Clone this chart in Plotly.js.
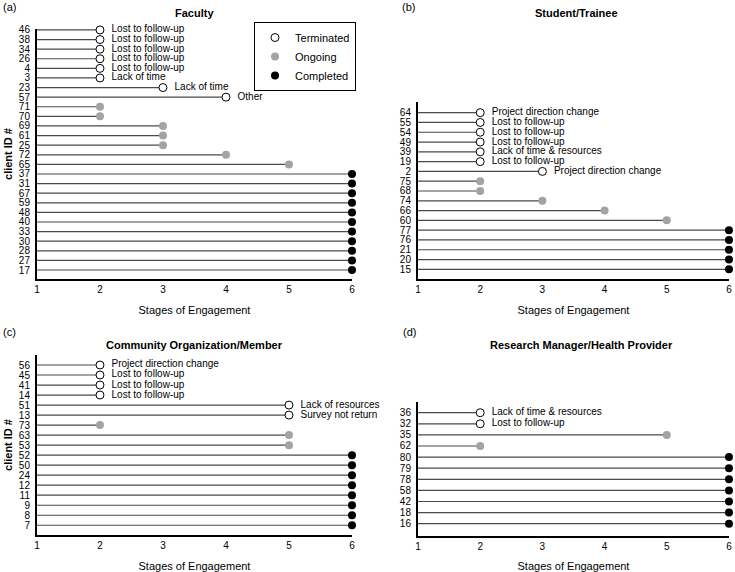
<!DOCTYPE html>
<html>
<head>
<meta charset="utf-8">
<script src="https://cdn.plot.ly/plotly-3.0.1.min.js"></script>
<style>
html, body { margin: 0; padding: 0; background: #fff; }
#chart { width: 735px; height: 572px; }
</style>
</head>
<body>
<div id="chart"></div>
<script>
// status codes: T = terminated, O = ongoing, C = completed

// (a) Faculty
var facultyIds = ['46','38','34','26','4','3','23','57','71','70','69','61','25','72','65',
                  '37','31','67','59','48','40','33','30','28','27','17']
var facultyStage = [2,2,2,2,2,2,3,4,2,2,3,3,3,4,5,6,6,6,6,6,6,6,6,6,6,6]
var facultyStatus = ['T','T','T','T','T','T','T','T','O','O','O','O','O','O','O',
                     'C','C','C','C','C','C','C','C','C','C','C']
var facultyReason = ['Lost to follow-up','Lost to follow-up','Lost to follow-up','Lost to follow-up',
                     'Lost to follow-up','Lack of time','Lack of time','Other']

// (b) Student/Trainee
var studentIds = ['64','55','54','49','39','19','2','75','68','74','66','60','77','76','21','20','15']
var studentStage = [2,2,2,2,2,2,3,2,2,3,4,5,6,6,6,6,6]
var studentStatus = ['T','T','T','T','T','T','T','O','O','O','O','O','C','C','C','C','C']
var studentReason = ['Project direction change','Lost to follow-up','Lost to follow-up','Lost to follow-up',
                     'Lack of time & resources','Lost to follow-up','Project direction change']

// (c) Community Organization/Member
var communityIds = ['56','45','41','14','51','13','73','63','53','52','50','24','12','11','9','8','7']
var communityStage = [2,2,2,2,5,5,2,5,5,6,6,6,6,6,6,6,6]
var communityStatus = ['T','T','T','T','T','T','O','O','O','C','C','C','C','C','C','C','C']
var communityReason = ['Project direction change','Lost to follow-up','Lost to follow-up','Lost to follow-up',
                       'Lack of resources','Survey not return']

// (d) Research Manager/Health Provider
var managerIds = ['36','32','35','62','80','79','78','58','42','18','16']
var managerStage = [2,2,5,2,6,6,6,6,6,6,6]
var managerStatus = ['T','T','O','O','C','C','C','C','C','C','C']
var managerReason = ['Lack of time & resources','Lost to follow-up']

var stageTicks = [1,2,3,4,5,6]
var statusNames = {T: 'Terminated', O: 'Ongoing', C: 'Completed'}

var fontFam = 'Arial, "Liberation Sans", sans-serif'

function panelTraces(ids, stage, status, reason, xa, ya, withLegend) {
    var traces = []

    // stems from stage 1 out to the reached stage
    var sx = [], sy = []
    for (let i = 0; i < ids.length; i++) {
        sx.push(1, stage[i], null)
        sy.push(ids[i], ids[i], null)
    }
    traces.push({
        x: sx, y: sy, xaxis: xa, yaxis: ya,
        type: 'scatter', mode: 'lines',
        line: {color: '#4a4a4a', width: 1.2},
        hoverinfo: 'skip', showlegend: false
    })

    var styles = {
        T: {color: '#ffffff', size: 8, line: {color: '#000', width: 1}},
        O: {color: '#a3a3a3', size: 8, line: {width: 0}},
        C: {color: '#000000', size: 8, line: {width: 0}}
    }

    ;['T', 'O', 'C'].forEach(function (code) {
        var x = [], y = [], txt = []
        for (let i = 0; i < ids.length; i++) {
            if (status[i] != code) continue
            x.push(stage[i])
            y.push(ids[i])
            // two no-break spaces keep the reason clear of the circle
            txt.push(code == 'T' ? '\u00a0\u00a0' + reason[i] : '')
        }
        traces.push({
            x: x, y: y, xaxis: xa, yaxis: ya,
            type: 'scatter',
            mode: code == 'T' ? 'markers+text' : 'markers',
            text: txt,
            textposition: 'middle right',
            textfont: {family: fontFam, size: 10, color: '#000'},
            marker: styles[code],
            name: statusNames[code],
            legendgroup: code,
            showlegend: withLegend,
            cliponaxis: false
        })
    })
    return traces
}

var data = [].concat(
    panelTraces(facultyIds, facultyStage, facultyStatus, facultyReason, 'x', 'y', true),
    panelTraces(studentIds, studentStage, studentStatus, studentReason, 'x2', 'y2', false),
    panelTraces(communityIds, communityStage, communityStatus, communityReason, 'x3', 'y3', false),
    panelTraces(managerIds, managerStage, managerStatus, managerReason, 'x4', 'y4', false)
)

function xAxis(domain, anchor) {
    return {
        domain: domain, anchor: anchor,
        range: [1, 6], tickvals: stageTicks, ticks: '',
        showline: true, linecolor: '#000', linewidth: 2,
        showgrid: false, zeroline: false,
        tickfont: {family: fontFam, size: 10, color: '#000'},
        title: {text: 'Stages of Engagement', font: {family: fontFam, size: 11, color: '#000'}, standoff: 12}
    }
}

function yAxis(domain, anchor, ids, range, withTitle) {
    var ax = {
        domain: domain, anchor: anchor,
        type: 'category', categoryorder: 'array', categoryarray: ids,
        tickmode: 'array', tickvals: ids, ticktext: ids,
        range: range, ticks: '',
        showline: true, linecolor: '#000', linewidth: 2,
        showgrid: false, zeroline: false,
        ticklabelstandoff: 3,
        tickfont: {family: fontFam, size: 10, color: '#000'}
    }
    if (withTitle) {
        ax.title = {text: '<b>client ID #</b>', font: {family: fontFam, size: 11, color: '#000'}, standoff: 4}
    }
    return ax
}

var leftX = [0.0503, 0.4789]
var rightX = [0.5687, 0.9918]

function note(text, x, y, anchor, bold) {
    return {
        text: bold ? '<b>' + text + '</b>' : text,
        x: x, y: y, xref: 'paper', yref: 'paper',
        xanchor: anchor, yanchor: 'middle', showarrow: false,
        font: {family: fontFam, size: 11, color: '#000'}
    }
}

var layout = {
    width: 735, height: 572,
    margin: {l: 0, r: 0, t: 0, b: 0},
    paper_bgcolor: '#fff', plot_bgcolor: '#fff',
    font: {family: fontFam, color: '#000'},
    xaxis: xAxis(leftX, 'y'),
    yaxis: yAxis([0.5122, 0.9493], 'x', facultyIds, [25.94, -0.1], true),
    xaxis2: xAxis(rightX, 'y2'),
    yaxis2: yAxis([0.5122, 0.8217], 'x2', studentIds, [16.99, -1.09], false),
    xaxis3: xAxis(leftX, 'y3'),
    yaxis3: yAxis([0.0647, 0.3794], 'x3', communityIds, [16.97, -1.0], true),
    xaxis4: xAxis(rightX, 'y4'),
    yaxis4: yAxis([0.0635, 0.2977], 'x4', managerIds, [11.08, -0.99], false),
    legend: {
        x: 0.3456, y: 0.9615, xanchor: 'left', yanchor: 'top',
        bgcolor: '#fff', bordercolor: '#000', borderwidth: 1,
        font: {family: fontFam, size: 11, color: '#000'},
        itemwidth: 30, tracegroupgap: 0
    },
    annotations: [
        note('(a)', 0.002, 0.9878, 'left', false),
        note('Faculty', 0.2653, 0.9773, 'center', true),
        note('(b)', 0.5442, 0.9878, 'left', false),
        note('Student/Trainee', 0.785, 0.9773, 'center', true),
        note('(c)', 0.002, 0.4196, 'left', false),
        note('Community Organization/Member', 0.2653, 0.3969, 'center', true),
        note('(d)', 0.5456, 0.4196, 'left', false),
        note('Research Manager/Health Provider', 0.7918, 0.3969, 'center', true)
    ]
}

Plotly.newPlot('chart', data, layout, {staticPlot: true, displayModeBar: false})
</script>
</body>
</html>
